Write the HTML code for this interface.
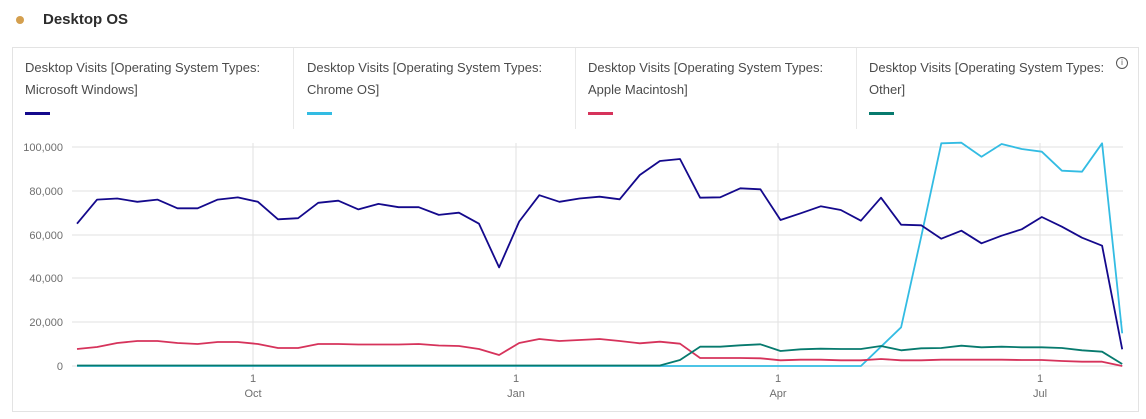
<!DOCTYPE html>
<html><head><meta charset="utf-8"><style>
body{margin:0;width:1146px;height:419px;background:#fff;font-family:"Liberation Sans",sans-serif;overflow:hidden;position:relative}
.t{position:absolute;left:43px;top:11px;font-size:15px;font-weight:bold;color:#2c2c2c}
.dot{position:absolute;left:16px;top:16px;width:8px;height:8px;border-radius:50%;background:#d49f4e}
.card{position:absolute;left:12px;top:47px;width:1127px;height:365px;border:1px solid #e3e3e3;box-sizing:border-box}
.lg{position:absolute;top:48px;height:81px;width:281px;box-sizing:border-box;padding:9px 12px;font-size:13px;line-height:22px;color:#4b4b4b}
.lg i{display:block;width:25px;height:3px;margin-top:11px}
.sep{border-right:1px solid #e8e8e8}
</style></head><body>
<div class="dot"></div><div class="t">Desktop OS</div>
<div class="card"></div>
<div class="lg sep" style="left:13px">Desktop Visits [Operating System Types:<br>Microsoft Windows]<i style="background:#14098c"></i></div>
<div class="lg sep" style="left:295px">Desktop Visits [Operating System Types:<br>Chrome OS]<i style="background:#33bce3"></i></div>
<div class="lg sep" style="left:576px">Desktop Visits [Operating System Types:<br>Apple Macintosh]<i style="background:#d6335b"></i></div>
<div class="lg" style="left:857px">Desktop Visits [Operating System Types:<br>Other]<i style="background:#077a6e"></i></div>
<div style="position:absolute;left:1116px;top:57px;width:10px;height:10px;border:1px solid #555;border-radius:50%;font-size:8px;line-height:10px;text-align:center;color:#555">i</div>
<svg id="s" width="1146" height="419" style="position:absolute;left:0;top:0" font-family="Liberation Sans, sans-serif"></svg>
<script>
var s=document.getElementById('s'),h='';
var gy=[366,322,278,235,191,147],lab=['0','20,000','40,000','60,000','80,000','100,000'];
for(var k=0;k<6;k++){h+='<line x1="72" x2="1123" y1="'+gy[k]+'" y2="'+gy[k]+'" stroke="#e2e2e2"/><text x="63" y="'+(gy[k]+4)+'" text-anchor="end" font-size="11" fill="#6e6e6e">'+lab[k]+'</text>';}
var vx=[253,516,778,1040],mn=['Oct','Jan','Apr','Jul'];
for(k=0;k<4;k++){h+='<line x1="'+vx[k]+'" x2="'+vx[k]+'" y1="143" y2="370" stroke="#e2e2e2"/><text x="'+vx[k]+'" y="382" text-anchor="middle" font-size="11" fill="#6e6e6e">1</text><text x="'+vx[k]+'" y="397" text-anchor="middle" font-size="11" fill="#6e6e6e">'+mn[k]+'</text>';}
function yv(v){return 366-v*0.00219;}
var wv=[65000,76000,76500,75000,76000,72000,72000,76000,77000,75000,67000,67500,74500,75500,71500,74000,72500,72500,69000,70000,65000,45000,66000,78000,75000,76500];
var w=wv.map(yv).concat([196.7,199.3,175,161,159,197.7,197.3,188.3,189.3,220,213.3,206.3,210,220.7,197.7,224.7,225.3,238.7,230.7,243.3,235.7,229.3,217,226.7,237.7,245.7,349.3]);
var c=[];for(k=0;k<40;k++)c.push(366);c=c.concat([346.7,327.3,236.7,143.3,142.7,156.7,144,149,151.7,170.7,171.7,143.3,333.3]);
var o=[];for(k=0;k<30;k++)o.push(365.5);o=o.concat([360,346.7,346.7,345.3,344.3,351,349.3,348.7,349,349,346,350.3,348.3,348,345.7,347.3,346.7,347.3,347.3,348,350.3,351.7,364]);
var r=[349,347,343,341,341,343,344,342,342,344,348,348,344,344,344.5,344.5,344.5,344,345.5,346,349,355,343,339,341,340,339,341,343.3,341.7,343.7,358,358,358,358.3,360.3,359.7,359.7,360.3,360.3,359,360.3,360.3,359.7,359.7,359.7,359.7,360,360,361,361.7,361.7,366];
function pl(a,col){var p=a.map(function(y,i){return (77+i*20.1).toFixed(1)+','+y.toFixed(1)}).join(' ');return '<polyline points="'+p+'" fill="none" stroke="'+col+'" stroke-width="1.8" stroke-linejoin="round"/>';}
h+=pl(c,'#33bce3')+pl(r,'#d6335b')+pl(o,'#077a6e')+pl(w,'#14098c');
s.innerHTML=h;
</script>
</body></html>
